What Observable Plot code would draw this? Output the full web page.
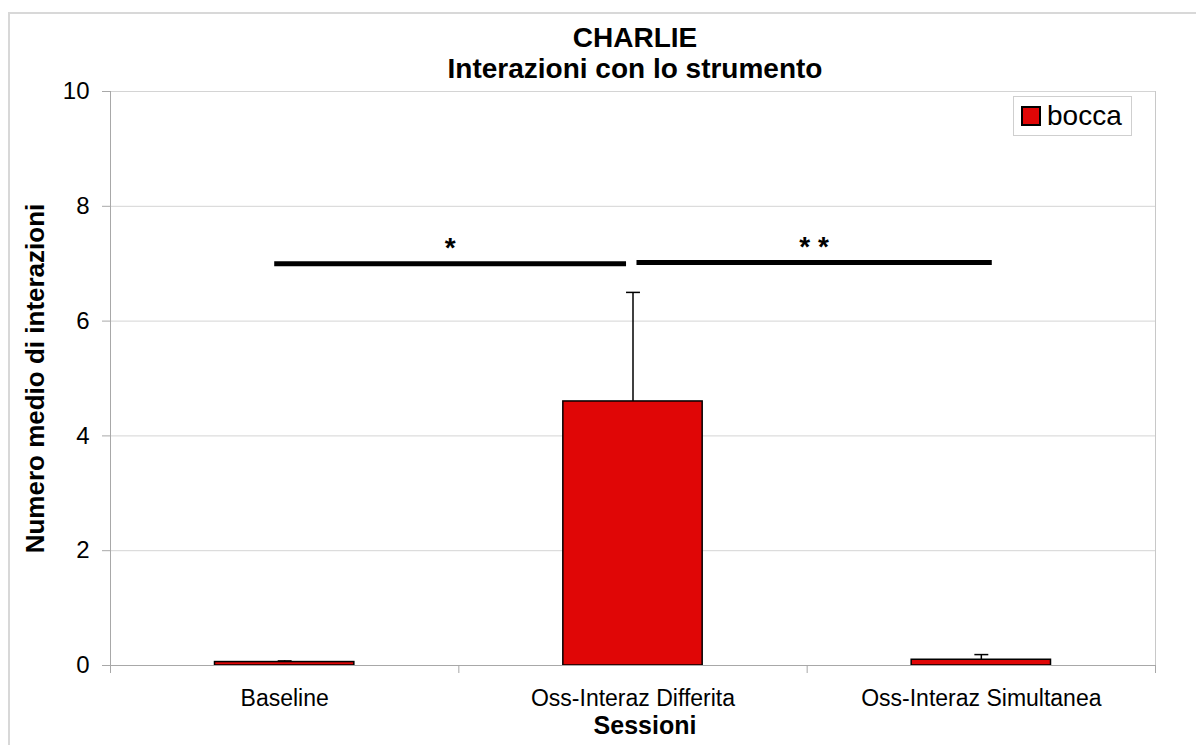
<!DOCTYPE html>
<html>
<head>
<meta charset="utf-8">
<script src="https://cdn.jsdelivr.net/npm/d3@7"></script>
<script src="https://cdn.jsdelivr.net/npm/@observablehq/plot@0.6"></script>
<style>
html, body { margin: 0; padding: 0; background: #fff; overflow: hidden; }
#wrap { position: relative; width: 1196px; height: 745px; overflow: hidden; }
#outer { position: absolute; left: 8px; top: 12px; width: 1400px; height: 1000px;
  border-top: 2px solid #d8d8d8; border-left: 2px solid #d8d8d8; }
#chart { position: absolute; left: 0; top: 0; }
#legend { position: absolute; left: 1013px; top: 96px; width: 117px; height: 38px;
  border: 1px solid #cfcfcf; background: #fff; }
#legend > div { font-family: 'Liberation Sans', Arial, sans-serif !important; font-size: 28px !important;
  color: #000; min-height: 38px !important; margin: 0 !important; padding-left: 8px; display: flex; align-items: center; }
#legend > div > span, #legend > div > div { margin-right: 0 !important; display: inline-flex; align-items: center; }
#legend svg { margin-right: 7px !important; }
#legend svg rect { stroke: #000; stroke-width: 2px; }
</style>
</head>
<body>
<div id="wrap">
  <div id="outer"></div>
  <div id="chart"></div>
  <div id="legend"></div>
</div>
<script>
// ---- data ----
const categories = ["Baseline", "Oss-Interaz Differita", "Oss-Interaz Simultanea"];
const means = [0.06, 4.6, 0.1];
const errors = [0.02, 1.9, 0.09];
const series = ["bocca"];
const yTicks = [0, 2, 4, 6, 8, 10];
const sigX1 = [-0.03, 1.01];
const sigX2 = [0.98, 2.03];
const sigY = [7.0, 7.02];
const sigLabels = ["*", "* *"];

// ---- styling ----
const red = "#e00606";
const font = "'Liberation Sans', Arial, sans-serif";
const barHalf = 0.2;
const capHalf = 0.02;

const idx = categories.map((_, i) => i);
const sigIdx = sigY.map((_, i) => i);
const xDomain = [-0.5, categories.length - 0.5];
const boundaries = d3.range(categories.length + 1).map(i => i - 0.5);

const chart = Plot.plot({
  width: 1196,
  height: 745,
  marginLeft: 110,
  marginRight: 41,
  marginTop: 91,
  marginBottom: 80,
  style: { fontFamily: font, fontSize: "22px", color: "#000", background: "transparent", overflow: "visible" },
  x: { type: "linear", domain: xDomain },
  y: { domain: [0, 10] },
  marks: [
    Plot.gridY(yTicks.slice(1), { stroke: "#d4d4d4", strokeOpacity: 1 }),
    Plot.ruleX([xDomain[1]], { stroke: "#c8c8c8" }),
    Plot.rectY(idx, {
      x1: i => i - barHalf, x2: i => i + barHalf,
      y1: 0, y2: i => means[i],
      fill: red, stroke: "#000", strokeWidth: 1.5
    }),
    Plot.ruleX(idx, { x: i => i, y1: i => means[i], y2: i => means[i] + errors[i], stroke: "#000", strokeWidth: 1.5 }),
    Plot.link(idx, {
      x1: i => i - capHalf, x2: i => i + capHalf,
      y1: i => means[i] + errors[i], y2: i => means[i] + errors[i],
      stroke: "#000", strokeWidth: 1.5
    }),
    Plot.ruleX([xDomain[0]], { stroke: "#a8a8a8" }),
    Plot.ruleY([0], { stroke: "#a8a8a8" }),
    Plot.axisY(yTicks, { tickSize: 8, tickPadding: 13, fontSize: 24, stroke: "#a8a8a8", label: null, tickFormat: d3.format("d") }),
    Plot.axisX(idx, { tickSize: 0, tickPadding: 24, tickFormat: i => categories[i], fontSize: 23, label: null }),
    Plot.axisX(boundaries, { tickSize: 8, tickFormat: () => "", stroke: "#a8a8a8", label: null }),
    Plot.link(sigIdx, {
      x1: i => sigX1[i], x2: i => sigX2[i],
      y1: i => sigY[i], y2: i => sigY[i],
      stroke: "#000", strokeWidth: 5
    }),
    Plot.text(sigIdx, {
      x: i => (sigX1[i] + sigX2[i]) / 2, y: i => sigY[i],
      text: i => sigLabels[i], lineAnchor: "bottom", dy: -7, fontSize: 28, fontWeight: "bold"
    }),
    Plot.text(["CHARLIE"], { frameAnchor: "top", dx: 2, dy: -45, lineAnchor: "bottom", fontSize: 28, fontWeight: "bold" }),
    Plot.text(["Interazioni con lo strumento"], { frameAnchor: "top", dx: 2, dy: -14, lineAnchor: "bottom", fontSize: 28, fontWeight: "bold" }),
    Plot.text(["Numero medio di interazioni"], { frameAnchor: "left", textAnchor: "middle", dx: -67, rotate: -90, lineAnchor: "bottom", fontSize: 26, fontWeight: "bold" }),
    Plot.text(["Sessioni"], { frameAnchor: "bottom", dx: 12, dy: 68, lineAnchor: "bottom", fontSize: 25, fontWeight: "bold" })
  ]
});
document.getElementById("chart").appendChild(chart);

const legend = Plot.legend({
  color: { type: "ordinal", domain: series, range: [red] },
  swatchSize: 18,
  style: { fontSize: "28px", fontFamily: font, color: "#000" }
});
document.getElementById("legend").appendChild(legend);
</script>
</body>
</html>
